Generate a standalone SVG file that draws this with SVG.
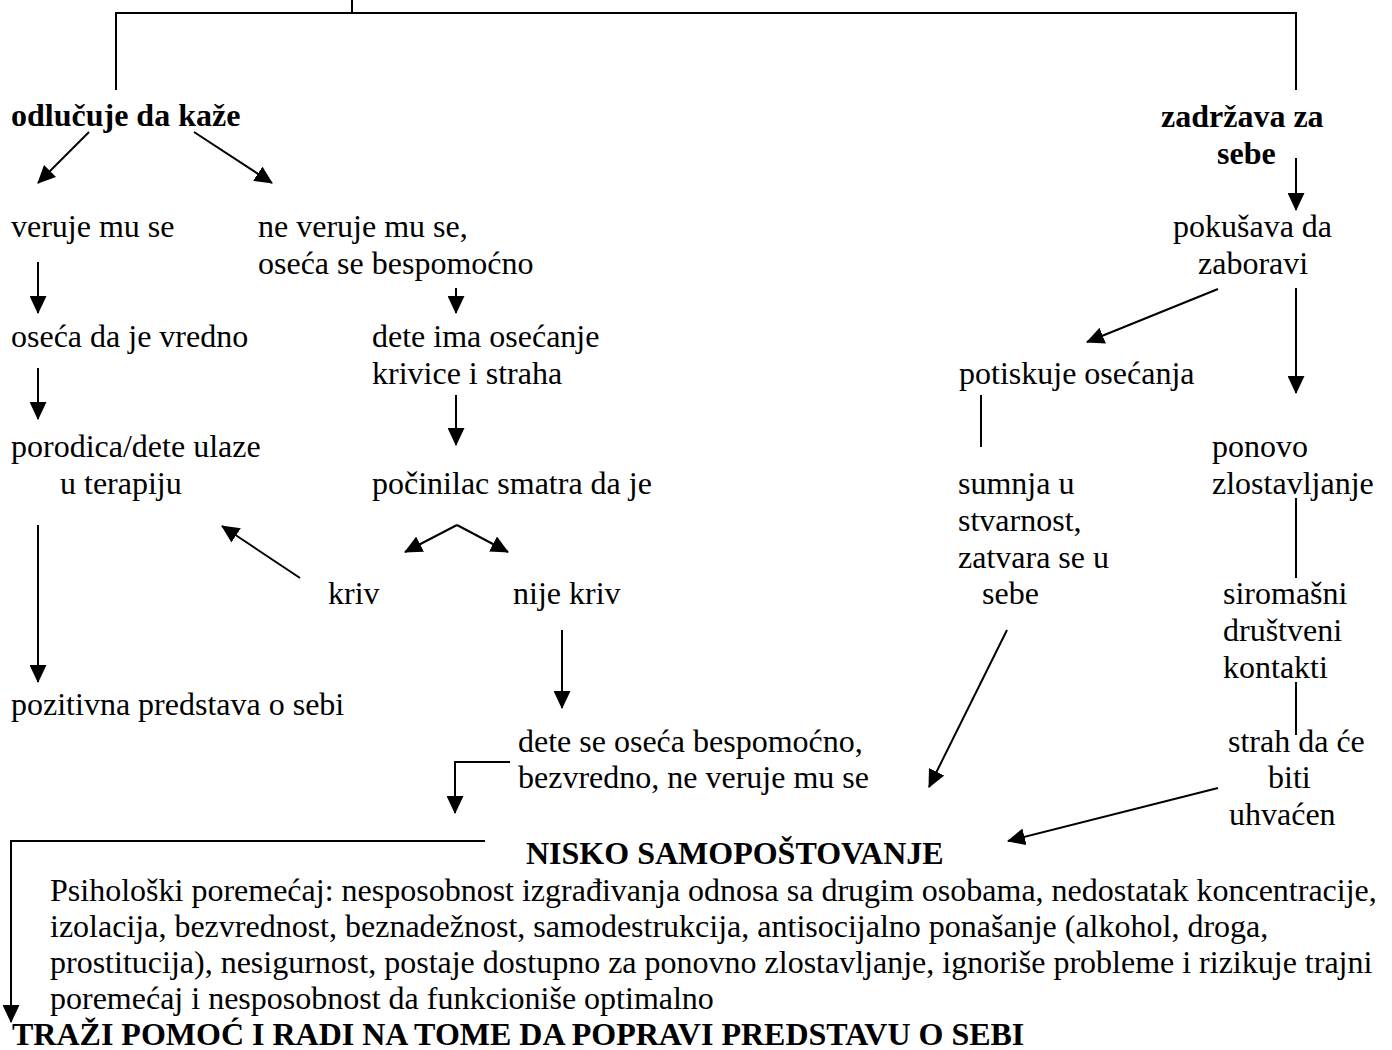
<svg xmlns="http://www.w3.org/2000/svg" width="1392" height="1050" viewBox="0 0 1392 1050">
<style>
text{font-family:"Liberation Serif","Times New Roman",serif;font-size:32px;fill:#000}
.b{font-weight:bold}
.c{fill:none;stroke:#000;stroke-width:2}
.a{fill:none;stroke:#000;stroke-width:2;marker-end:url(#ah)}
</style>
<defs>
<marker id="ah" markerUnits="userSpaceOnUse" markerWidth="18" markerHeight="17" refX="17" refY="8.5" orient="auto" viewBox="0 0 18 17">
<path d="M0,0 L18,8.5 L0,17 Z" fill="#000"/>
</marker>
</defs>
<rect width="1392" height="1050" fill="#fff"/>
<g id="connectors">
<path class="c" d="M116,90 V13 H1296 V90 M352,0 V13"/>
<line class="a" x1="89" y1="132" x2="38" y2="183"/>
<line class="a" x1="194" y1="132" x2="272" y2="183"/>
<line class="a" x1="1296" y1="158" x2="1296" y2="210"/>
<line class="a" x1="38" y1="262" x2="38" y2="313"/>
<line class="a" x1="456" y1="288" x2="456" y2="313"/>
<line class="a" x1="1218" y1="289" x2="1087" y2="342"/>
<line class="a" x1="1296" y1="288" x2="1296" y2="393"/>
<line class="a" x1="38" y1="368" x2="38" y2="419"/>
<line class="a" x1="456" y1="395" x2="456" y2="445"/>
<line class="c" x1="981" y1="395" x2="981" y2="447"/>
<line class="a" x1="457" y1="525" x2="405" y2="552"/>
<line class="a" x1="457" y1="525" x2="508" y2="552"/>
<line class="a" x1="300" y1="578" x2="222" y2="526"/>
<line class="a" x1="38" y1="525" x2="38" y2="682"/>
<line class="c" x1="1296" y1="498" x2="1296" y2="578"/>
<line class="a" x1="562" y1="630" x2="562" y2="708"/>
<line class="a" x1="1007" y1="630" x2="929" y2="787"/>
<line class="c" x1="1296" y1="682" x2="1296" y2="735"/>
<path class="a" d="M510,762 H455 V813"/>
<line class="a" x1="1218" y1="788" x2="1008" y2="841"/>
<path class="a" d="M485,841 H11 V1022"/>
</g>
<g id="odlucuje"><text class="b" x="11" y="126">odlučuje da kaže</text></g>
<g id="zadrzava"><text class="b" x="1161" y="127">zadržava za</text><text class="b" x="1217" y="164">sebe</text></g>
<g id="veruje"><text x="11" y="237">veruje mu se</text></g>
<g id="ne-veruje"><text x="258" y="237">ne veruje mu se,</text><text x="258" y="274">oseća se bespomoćno</text></g>
<g id="pokusava"><text x="1173" y="237">pokušava da</text><text x="1198" y="274">zaboravi</text></g>
<g id="oseca-vredno"><text x="11" y="347">oseća da je vredno</text></g>
<g id="dete-ima"><text x="372" y="347">dete ima osećanje</text><text x="372" y="384">krivice i straha</text></g>
<g id="potiskuje"><text x="959" y="384">potiskuje osećanja</text></g>
<g id="porodica"><text x="11" y="457">porodica/dete ulaze</text><text x="60" y="494">u terapiju</text></g>
<g id="ponovo"><text x="1212" y="457">ponovo</text><text x="1212" y="494">zlostavljanje</text></g>
<g id="pocinilac"><text x="372" y="494">počinilac smatra da je</text></g>
<g id="sumnja"><text x="958" y="494">sumnja u</text><text x="958" y="531">stvarnost,</text><text x="958" y="568">zatvara se u</text><text x="982" y="604">sebe</text></g>
<g id="kriv"><text x="328" y="604">kriv</text></g>
<g id="nije-kriv"><text x="513" y="604">nije kriv</text></g>
<g id="siromasni"><text x="1223" y="604">siromašni</text><text x="1223" y="641">društveni</text><text x="1223" y="678">kontakti</text></g>
<g id="pozitivna"><text x="11" y="715">pozitivna predstava o sebi</text></g>
<g id="dete-se"><text x="518" y="752">dete se oseća bespomoćno,</text><text x="518" y="788">bezvredno, ne veruje mu se</text></g>
<g id="strah"><text x="1228" y="752">strah da će</text><text x="1268" y="788">biti</text><text x="1229" y="825">uhvaćen</text></g>
<g id="nisko"><text class="b" x="526" y="864">NISKO SAMOPOŠTOVANJE</text>
<text x="50" y="901">Psihološki poremećaj: nesposobnost izgrađivanja odnosa sa drugim osobama, nedostatak koncentracije,</text>
<text x="50" y="937">izolacija, bezvrednost, beznadežnost, samodestrukcija, antisocijalno ponašanje (alkohol, droga,</text>
<text x="50" y="973">prostitucija), nesigurnost, postaje dostupno za ponovno zlostavljanje, ignoriše probleme i rizikuje trajni</text>
<text x="50" y="1009">poremećaj i nesposobnost da funkcioniše optimalno</text></g>
<g id="trazi"><text class="b" x="12" y="1045">TRAŽI POMOĆ I RADI NA TOME DA POPRAVI PREDSTAVU O SEBI</text></g>
</svg>
